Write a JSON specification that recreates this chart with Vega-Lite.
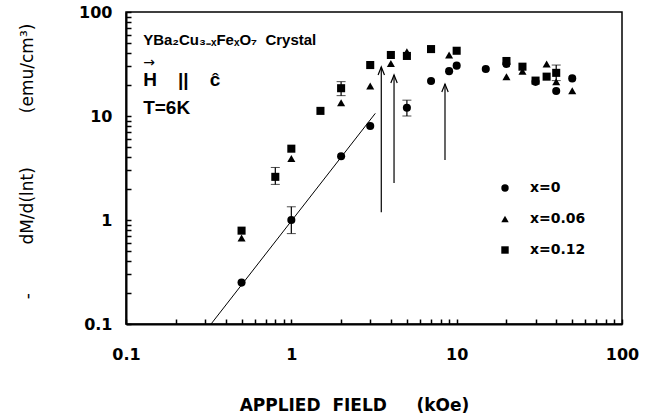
{
  "$schema": "https://vega.github.io/schema/vega-lite/v6.json",
  "width": 496,
  "height": 312,
  "autosize": {"type": "none"},
  "padding": {"left": 126, "top": 12, "right": 38, "bottom": 95},
  "background": "white",
  "config": {
    "font": "Liberation Sans",
    "view": {"stroke": "black", "strokeWidth": 1.5}
  },
  "datasets": {
    "pts": [
      {"x": 0.5, "y": 0.25, "s": "x=0"},
      {"x": 1, "y": 1.0, "s": "x=0"},
      {"x": 2, "y": 4.1, "s": "x=0"},
      {"x": 3, "y": 8.0, "s": "x=0"},
      {"x": 5, "y": 12, "s": "x=0"},
      {"x": 7, "y": 21.7, "s": "x=0"},
      {"x": 9, "y": 27, "s": "x=0"},
      {"x": 10, "y": 30.5, "s": "x=0"},
      {"x": 15, "y": 28.3, "s": "x=0"},
      {"x": 20, "y": 31.6, "s": "x=0"},
      {"x": 30, "y": 21.3, "s": "x=0"},
      {"x": 40, "y": 17.4, "s": "x=0"},
      {"x": 50, "y": 23, "s": "x=0"},
      {"x": 0.5, "y": 0.67, "s": "x=0.06"},
      {"x": 1, "y": 3.9, "s": "x=0.06"},
      {"x": 2, "y": 13.4, "s": "x=0.06"},
      {"x": 3, "y": 19.4, "s": "x=0.06"},
      {"x": 4, "y": 32, "s": "x=0.06"},
      {"x": 5, "y": 41.5, "s": "x=0.06"},
      {"x": 9, "y": 38.6, "s": "x=0.06"},
      {"x": 20, "y": 23.9, "s": "x=0.06"},
      {"x": 25, "y": 27, "s": "x=0.06"},
      {"x": 35, "y": 31.6, "s": "x=0.06"},
      {"x": 40, "y": 21.3, "s": "x=0.06"},
      {"x": 50, "y": 17.5, "s": "x=0.06"},
      {"x": 0.5, "y": 0.79, "s": "x=0.12"},
      {"x": 0.8, "y": 2.6, "s": "x=0.12"},
      {"x": 1, "y": 4.85, "s": "x=0.12"},
      {"x": 1.5, "y": 11.2, "s": "x=0.12"},
      {"x": 2, "y": 18.5, "s": "x=0.12"},
      {"x": 3, "y": 30.9, "s": "x=0.12"},
      {"x": 4, "y": 38.6, "s": "x=0.12"},
      {"x": 5, "y": 37.8, "s": "x=0.12"},
      {"x": 7, "y": 44, "s": "x=0.12"},
      {"x": 10, "y": 42.4, "s": "x=0.12"},
      {"x": 20, "y": 33.8, "s": "x=0.12"},
      {"x": 25, "y": 29.8, "s": "x=0.12"},
      {"x": 30, "y": 21.9, "s": "x=0.12"},
      {"x": 35, "y": 23.9, "s": "x=0.12"},
      {"x": 40, "y": 26, "s": "x=0.12"}
    ],
    "errs": [
      {"x": 1, "y": 0.74, "y2": 1.34},
      {"x": 5, "y": 10, "y2": 14.2},
      {"x": 0.8, "y": 2.2, "y2": 3.2},
      {"x": 2, "y": 15.7, "y2": 21.4},
      {"x": 40, "y": 21.9, "y2": 30.9}
    ],
    "fit": [
      {"x": 0.327, "y": 0.1},
      {"x": 3.22, "y": 10.6}
    ],
    "arrows": [
      {"x": 3.5, "y": 1.19, "y2": 29.6},
      {"x": 4.18, "y": 2.27, "y2": 24.8},
      {"x": 8.5, "y": 3.78, "y2": 20.3}
    ],
    "heads": [
      {"x": 3.5, "y": 29.6},
      {"x": 4.18, "y": 24.8},
      {"x": 8.5, "y": 20.3}
    ]
  },
  "encoding": {
    "x": {
      "field": "x",
      "type": "quantitative",
      "scale": {"type": "log", "domain": [0.1, 100], "nice": false},
      "axis": {
        "title": "APPLIED\u00a0\u00a0FIELD\u00a0\u00a0\u00a0\u00a0\u00a0(kOe)",
        "titleFontSize": 17,
        "titleFontWeight": "bold",
        "titleFont": "DejaVu Sans",
        "titleColor": "black",
        "titleX": 228,
        "titleY": 81,
        "titleBaseline": "middle",
        "values": [0.1, 0.2, 0.3, 0.4, 0.5, 0.6, 0.7, 0.8, 0.9, 1, 2, 3, 4, 5, 6, 7, 8, 9, 10, 20, 30, 40, 50, 60, 70, 80, 90, 100],
        "labelExpr": "(datum.value == 0.1 || datum.value == 1 || datum.value == 10 || datum.value == 100) ? format(datum.value, '~g') : ''",
        "labelOverlap": false,
        "labelFlush": false,
        "labelFontSize": 16,
        "labelFontWeight": "bold",
        "labelColor": "black",
        "labelPadding": 27,
        "labelFont": "DejaVu Sans",
        "domainColor": "black",
        "domainWidth": 2,
        "ticks": true,
        "tickColor": "black",
        "tickWidth": 1.5,
        "tickSize": -5,
        "grid": false
      }
    },
    "y": {
      "field": "y",
      "type": "quantitative",
      "scale": {"type": "log", "domain": [0.1, 100], "nice": false},
      "axis": {
        "title": "-\u00a0\u00a0\u00a0\u00a0\u00a0\u00a0\u00a0\u00a0\u00a0dM/d(lnt)\u00a0\u00a0\u00a0\u00a0\u00a0\u00a0\u00a0\u00a0\u00a0\u00a0(emu/cm³)",
        "titleFontSize": 17,
        "titleFontWeight": "normal",
        "titleFont": "DejaVu Sans",
        "titleColor": "black",
        "titleX": -99,
        "titleY": 149,
        "titleBaseline": "middle",
        "titleAngle": 270,
        "values": [0.1, 0.2, 0.3, 0.4, 0.5, 0.6, 0.7, 0.8, 0.9, 1, 2, 3, 4, 5, 6, 7, 8, 9, 10, 20, 30, 40, 50, 60, 70, 80, 90, 100],
        "labelExpr": "(datum.value == 0.1 || datum.value == 1 || datum.value == 10 || datum.value == 100) ? format(datum.value, '~g') : ''",
        "labelOverlap": false,
        "labelFlush": false,
        "labelFontSize": 16,
        "labelFontWeight": "bold",
        "labelColor": "black",
        "labelPadding": 19,
        "labelFont": "DejaVu Sans",
        "domainColor": "black",
        "domainWidth": 2,
        "ticks": true,
        "tickColor": "black",
        "tickWidth": 1.5,
        "tickSize": -5,
        "grid": false
      }
    }
  },
  "layer": [
    {
      "data": {"name": "fit"},
      "mark": {"type": "line", "color": "black", "strokeWidth": 1, "clip": true}
    },
    {
      "data": {"name": "arrows"},
      "mark": {"type": "rule", "color": "black", "strokeWidth": 1.2},
      "encoding": {"y2": {"field": "y2"}}
    },
    {
      "data": {"name": "heads"},
      "mark": {"type": "point", "shape": "M-0.4,1L0,0L0.4,1", "filled": false, "stroke": "black", "strokeWidth": 1.2, "size": 256, "opacity": 1}
    },
    {
      "data": {"name": "errs"},
      "mark": {"type": "errorbar", "ticks": {"size": 9, "color": "black", "strokeWidth": 1.2}, "rule": {"color": "black", "strokeWidth": 1.2}},
      "encoding": {"y2": {"field": "y2"}}
    },
    {
      "data": {"name": "pts"},
      "mark": {"type": "point", "filled": true, "color": "black", "opacity": 1, "size": 65},
      "encoding": {
        "shape": {
          "field": "s",
          "type": "nominal",
          "scale": {"domain": ["x=0", "x=0.06", "x=0.12"], "range": ["circle", "triangle-up", "square"]},
          "legend": {
            "orient": "none",
            "legendX": 372,
            "legendY": 169,
            "title": null,
            "labelFontSize": 14,
            "labelFontWeight": "bold",
            "labelFont": "DejaVu Sans",
            "labelColor": "black",
            "labelOffset": 18,
            "rowPadding": 17,
            "symbolSize": 55,
            "symbolFillColor": "black",
            "symbolStrokeColor": "black",
            "symbolOpacity": 1
          }
        }
      }
    },
    {
      "data": {"values": [{"x": 0.127, "y": 53.8, "t": "YBa₂Cu₃₋ₓFeₓO₇\u00a0\u00a0Crystal"}]},
      "mark": {"type": "text", "align": "left", "baseline": "middle", "fontSize": 15, "fontWeight": "bold", "font": "Liberation Sans", "color": "black"},
      "encoding": {"text": {"field": "t"}}
    },
    {
      "data": {"values": [{"x": 0.127, "y": 22.2, "t": "H\u00a0\u00a0\u00a0\u00a0||\u00a0\u00a0\u00a0\u00a0ĉ"}, {"x": 0.127, "y": 11.9, "t": "T=6K"}]},
      "mark": {"type": "text", "align": "left", "baseline": "middle", "fontSize": 19, "font": "Liberation Sans", "fontWeight": "bold", "color": "black"},
      "encoding": {"text": {"field": "t"}}
    },
    {
      "data": {"values": [{"x": 0.127, "y": 32.5, "t": "→"}]},
      "mark": {"type": "text", "align": "left", "baseline": "middle", "fontSize": 14, "font": "DejaVu Sans", "color": "black"},
      "encoding": {"text": {"field": "t"}}
    }
  ]
}
